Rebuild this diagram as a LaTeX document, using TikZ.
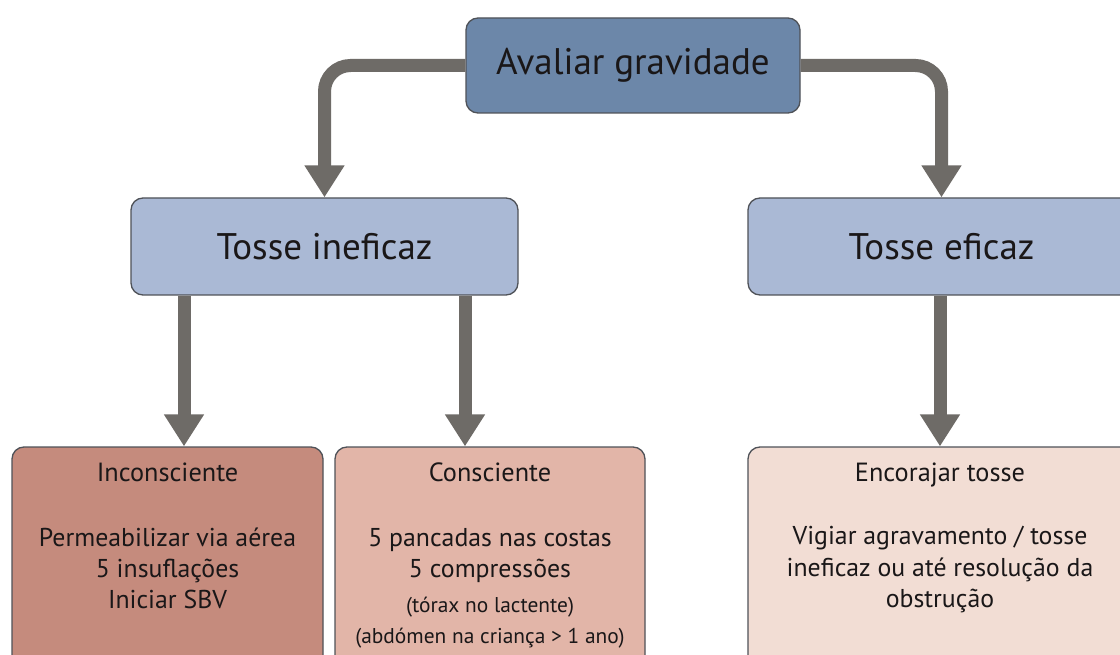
\documentclass[tikz,border=0pt]{standalone}
\usepackage{fontspec}
\setmainfont{PT Sans}
\usetikzlibrary{arrows.meta}
\definecolor{topc}{HTML}{6C87A9}
\definecolor{midc}{HTML}{AAB9D5}
\definecolor{inc}{HTML}{C58B7D}
\definecolor{conc}{HTML}{E2B5A8}
\definecolor{enc}{HTML}{F2DDD4}
\definecolor{arr}{HTML}{6E6B67}
\definecolor{bord}{HTML}{4F5258}
\definecolor{txt}{HTML}{1A1718}
\begin{document}
\begin{tikzpicture}[x=1pt,y=-1pt,
  box/.style={draw=bord, line width=1.3pt, rounded corners=12pt, inner sep=0pt, text=txt},
  big/.style={font=\fontsize{37}{44}\selectfont},
  head/.style={anchor=base, inner sep=0pt, text=txt, font=\fontsize{26.3}{30}\selectfont},
  body/.style={anchor=base, inner sep=0pt, text=txt, font=\fontsize{25.8}{31}\selectfont},
  small/.style={anchor=base, inner sep=0pt, text=txt, font=\fontsize{21.4}{24}\selectfont},
  conn/.style={draw=arr, line width=13pt, -{Triangle[length=32pt,width=38pt]}, rounded corners=26pt}]
\useasboundingbox (0,0) rectangle (1120,655);
\clip (0,0) rectangle (1120,655);
\fill[white] (0,0) rectangle (1120,655);

\node[box, big, fill=topc, minimum width=334pt, minimum height=95pt] (top) at (633,65.5) {Avaliar gravidade};
\node[box, big, fill=midc, minimum width=387pt, minimum height=97pt] (midL) at (324.5,246.5) {Tosse ineficaz};
\node[box, big, fill=midc, minimum width=387pt, minimum height=97pt] (midR) at (941.5,246.5) {Tosse eficaz};

\node[box, fill=inc, minimum width=311pt, minimum height=230pt] (bl) at (167.5,562) {};
\node[box, fill=conc, minimum width=310pt, minimum height=230pt] (bm) at (490,562) {};
\node[box, fill=enc, minimum width=385pt, minimum height=230pt] (br) at (940.5,562) {};

\node[head] (h1) at (167.5,481) {Inconsciente};
\node[body] (b11) at (167.5,546) {Permeabilizar via aérea};
\node[body] (b12) at (167.5,577) {5 insuflações};
\node[body] (b13) at (167.5,608) {Iniciar SBV};

\node[head] (h2) at (490,481) {Consciente};
\node[body] (b21) at (490,546) {5 pancadas nas costas};
\node[body] (b22) at (490,577) {5 compressões};
\node[small] (b23) at (490,612) {(tórax no lactente)};
\node[small] (b24) at (490,643) {(abdómen na criança > 1 ano)};

\node[head] (h3) at (940,481) {Encorajar tosse};
\node[body] (b31) at (940,544) {Vigiar agravamento / tosse};
\node[body] (b32) at (940,576) {ineficaz ou até resolução da};
\node[body] (b33) at (940,607) {obstrução};

\draw[conn] (top.west) -| (midL.north);
\draw[conn] (top.east) -| (midR.north);
\draw[conn] (184,0 |- midL.south) -- (184,0 |- bl.north);
\draw[conn] (465,0 |- midL.south) -- (465,0 |- bm.north);
\draw[conn] (940,0 |- midR.south) -- (940,0 |- br.north);
\end{tikzpicture}
\end{document}
